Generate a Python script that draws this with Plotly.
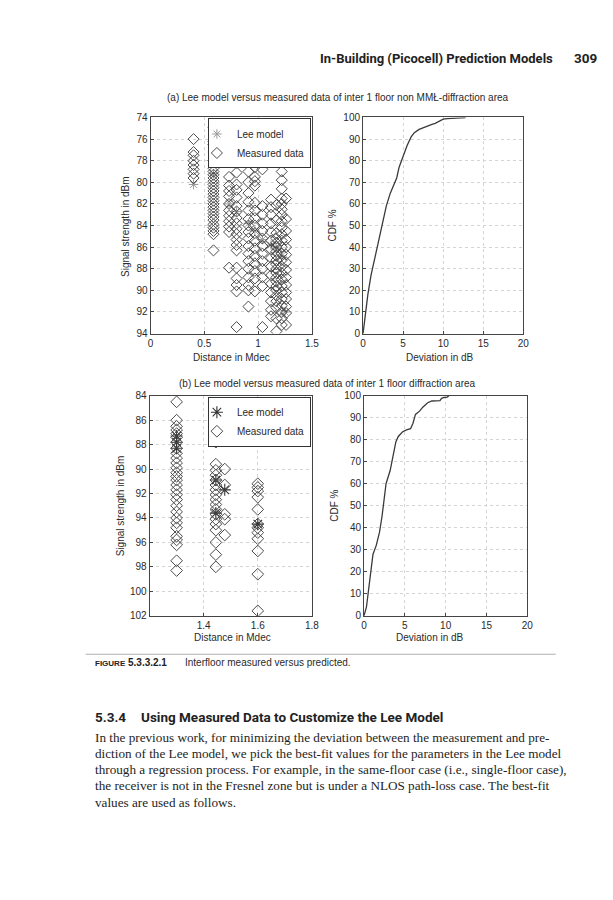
import plotly.graph_objects as go

# ---------------- data ----------------
# (a) inter 1 floor non MML-diffraction area: measured signal strength columns (dBm)
a_cols_x = [0.40, 0.585, 0.73, 0.80, 0.91, 0.97, 1.04, 1.12, 1.17, 1.22, 1.26]
a_col_040 = [76.0, 77.2, 77.5, 78.0, 78.4, 78.8, 79.2, 79.6]
a_col_058 = [74.9, 76.2, 76.5, 77.2, 78.0, 78.7, 79.0, 79.3, 79.6, 79.9, 80.2, 80.5, 80.8,
             81.1, 81.4, 81.7, 82.0, 82.3, 82.6, 82.9, 83.2, 83.5, 83.9, 84.2, 84.5, 84.8, 86.3]
a_col_073 = [76.8, 77.4, 78.0, 79.5, 80.3, 80.8, 81.3, 82.0, 82.6, 83.1, 83.6, 84.1, 84.6, 87.9]
a_col_080 = [77.4, 77.9, 78.2, 79.1, 80.2, 80.7, 81.4, 82.2, 82.7, 83.3, 83.8, 84.3, 84.8,
             85.3, 85.8, 86.3, 87.9, 88.9, 89.5, 90.1, 93.4]
a_col_091 = [79.0, 80.0, 81.0, 81.8, 82.6, 83.4, 84.0, 84.6, 85.2, 85.9, 86.6, 87.3, 88.0,
             88.8, 89.5, 90.0, 91.5]
a_col_097 = [78.6, 79.5, 79.9, 80.3, 81.9, 82.6, 83.3, 84.0, 84.7, 85.4, 86.1, 86.8, 87.5,
             88.2, 88.9, 90.1]
a_col_104 = [77.9, 78.8, 82.2, 83.0, 83.8, 84.5, 85.2, 85.9, 86.6, 87.3, 88.0, 88.8, 89.6, 93.4]
a_col_112 = [81.6, 82.3, 83.0, 83.8, 84.6, 85.4, 86.2, 87.0, 87.8, 88.6, 89.4, 90.2, 91.0,
             91.8, 92.4]
a_col_117 = [82.1, 83.5, 84.7, 85.2, 85.6, 86.0, 86.4, 86.8, 87.2, 87.6, 88.0, 88.4, 88.8,
             89.2, 89.6, 90.0, 90.5, 91.0, 91.6, 92.6, 93.8]
a_col_122 = [79.0, 79.8, 80.6, 81.5, 82.0, 82.5, 83.0, 83.6, 84.2, 84.8, 85.4, 86.0, 86.6,
             87.2, 87.8, 88.4, 89.0, 89.6, 90.2, 90.8, 91.4, 92.0, 92.6, 93.2]
a_col_126 = [81.5, 83.4, 84.5, 85.3, 86.0, 86.7, 87.4, 88.1, 88.8, 89.5, 90.2, 90.8, 91.5,
             92.1, 93.2]
a_measured_cols = [a_col_040, a_col_058, a_col_073, a_col_080, a_col_091, a_col_097,
                   a_col_104, a_col_112, a_col_117, a_col_122, a_col_126]
a_lee_x = [0.40, 0.585, 0.73, 0.80, 0.91, 0.97, 1.04, 1.12, 1.17, 1.22, 1.25]
a_lee_y = [80.2, 79.2, 82.0, 82.7, 83.8, 84.5, 85.3, 85.8, 86.2, 86.8, 92.0]

# (a) CDF of deviation
a_dev = [0, 0.15, 0.3, 0.6, 1.0, 1.4, 1.9, 2.4, 2.9, 3.4, 3.9, 4.2, 4.5, 4.8, 5.1, 5.5,
         6.0, 6.4, 7.0, 7.6, 8.2, 8.6, 9.0, 9.5, 10.0, 10.5, 11.5, 12.8]
a_cdf = [0, 5, 10, 18, 27, 34, 43, 51, 59, 65, 69, 72, 77, 80, 83, 87,
         91, 93, 94.5, 95.5, 96.3, 96.8, 97.3, 98.3, 99.2, 99.5, 99.8, 100]

# (b) inter 1 floor diffraction area
b_cols_x = [1.30, 1.445, 1.478, 1.60]
b_col_130 = [84.5, 86.0, 86.5, 86.8, 87.1, 87.4, 87.8, 88.3, 88.7, 89.1, 89.5, 89.9, 90.3,
             90.6, 90.9, 91.3, 91.7, 92.1, 92.5, 93.0, 93.5, 94.0, 94.4, 94.8, 95.5, 95.8,
             96.2, 97.5, 98.3]
b_col_145 = [87.8, 89.6, 90.1, 90.5, 90.9, 91.3, 91.7, 92.1, 92.5, 92.9, 93.3, 93.7, 94.1,
             94.5, 95.0, 96.0, 97.0, 98.0]
b_col_148 = [90.0, 91.3, 93.7, 94.1, 95.4]
b_col_160 = [91.2, 91.5, 91.8, 92.3, 93.3, 94.5, 94.8, 95.2, 95.7, 96.7, 98.6, 101.6]
b_measured_cols = [b_col_130, b_col_145, b_col_148, b_col_160]
b_lee_x = [1.30, 1.30, 1.30, 1.445, 1.445, 1.478, 1.60]
b_lee_y = [87.3, 87.8, 88.3, 90.9, 93.6, 91.7, 94.5]

b_dev = [0, 0.3, 0.5, 0.65, 0.8, 1.1, 1.5, 1.9, 2.2, 2.45, 2.7, 3.2, 3.5, 3.9, 4.2, 4.7,
         5.2, 5.7, 6.0, 6.3, 6.8, 7.2, 7.8, 8.3, 9.3, 9.5, 9.8, 10.2, 10.4]
b_cdf = [0, 4, 10, 15, 20, 28, 32, 38, 45, 52, 60, 66, 72, 79, 81.5, 83.5,
         84.5, 85, 87.5, 91.5, 93, 94.8, 96.8, 97.6, 97.8, 98.8, 99.2, 99.4, 100]

# tick labels
a_sig_ticks = list(range(74, 95, 2))
b_sig_ticks = list(range(84, 103, 2))
cdf_ticks = list(range(0, 101, 10))
dev_ticks = [0, 5, 10, 15, 20]
a_dist_ticks = [0, 0.5, 1, 1.5]
b_dist_ticks = [1.4, 1.6, 1.8]

# ---------------- layout helpers ----------------
W, H = 613, 900
def fx(px): return px / W
def fy(py): return 1 - py / H

def flatten(cols_x, cols):
    xs, ys = [], []
    for x, col in zip(cols_x, cols):
        xs += [x] * len(col)
        ys += col
    return xs, ys

a_mx, a_my = flatten(a_cols_x, a_measured_cols)
b_mx, b_my = flatten(b_cols_x, b_measured_cols)

SANS = "Liberation Sans, Arial, Helvetica, sans-serif"
HEAD = "Roboto, Liberation Sans, sans-serif"
SERIF = "Liberation Serif, DejaVu Serif, serif"
TXT = "#2a2a2a"

fig = go.Figure()

# (a) scatter
fig.add_trace(go.Scatter(x=a_lee_x, y=a_lee_y, mode="markers", name="Lee model",
                         marker=dict(symbol="asterisk-open", size=8, color="#9a9a9a",
                                     line=dict(width=1, color="#9a9a9a")),
                         xaxis="x", yaxis="y", legend="legend"))
fig.add_trace(go.Scatter(x=a_mx, y=a_my, mode="markers", name="Measured data",
                         marker=dict(symbol="diamond-open", size=8.5, color="#4a4a4a",
                                     line=dict(width=1, color="#4a4a4a")),
                         xaxis="x", yaxis="y", legend="legend"))
# (a) CDF
fig.add_trace(go.Scatter(x=a_dev, y=a_cdf, mode="lines", showlegend=False,
                         line=dict(color="#3a3a3a", width=1.3), xaxis="x2", yaxis="y2"))
# (b) scatter
fig.add_trace(go.Scatter(x=b_lee_x, y=b_lee_y, mode="markers", name="Lee model",
                         marker=dict(symbol="asterisk-open", size=10, color="#333333",
                                     line=dict(width=1.1, color="#333333")),
                         xaxis="x3", yaxis="y3", legend="legend2"))
fig.add_trace(go.Scatter(x=b_mx, y=b_my, mode="markers", name="Measured data",
                         marker=dict(symbol="diamond-open", size=9, color="#4a4a4a",
                                     line=dict(width=1, color="#4a4a4a")),
                         xaxis="x3", yaxis="y3", legend="legend2"))
# (b) CDF
fig.add_trace(go.Scatter(x=b_dev, y=b_cdf, mode="lines", showlegend=False,
                         line=dict(color="#3a3a3a", width=1.3), xaxis="x4", yaxis="y4"))

axis_common = dict(showline=True, linecolor="#444444", linewidth=1, mirror=True,
                   ticks="inside", ticklen=3, tickcolor="#444444",
                   showgrid=True, gridcolor="#d4d4d4", griddash="dot", gridwidth=1,
                   zeroline=False, tickfont=dict(family=SANS, size=10, color=TXT))

legend_common = dict(xanchor="right", yanchor="top", bgcolor="white",
                     bordercolor="#333333", borderwidth=1,
                     font=dict(family=SANS, size=10, color=TXT), tracegroupgap=0,
                     itemwidth=30, indentation=-12)

fig.update_layout(
    width=W, height=H, margin=dict(l=0, r=0, t=0, b=0),
    paper_bgcolor="white", plot_bgcolor="white",
    font=dict(family=SANS, color=TXT),
    xaxis=dict(domain=[fx(150), fx(314)], range=[0, 1.5], tickvals=a_dist_ticks,
               ticktext=["0", "0.5", "1", "1.5"], anchor="y", **axis_common),
    yaxis=dict(domain=[fy(332), fy(113)], range=[94, 74], tickvals=a_sig_ticks,
               anchor="x", **axis_common),
    xaxis2=dict(domain=[fx(366), fx(529)], range=[0, 20], tickvals=dev_ticks,
                anchor="y2", **axis_common),
    yaxis2=dict(domain=[fy(332), fy(113)], range=[0, 100], tickvals=cdf_ticks,
                anchor="x2", **axis_common),
    xaxis3=dict(domain=[fx(149), fx(314)], range=[1.2, 1.8], tickvals=b_dist_ticks,
                anchor="y3", **axis_common),
    yaxis3=dict(domain=[fy(618), fy(395)], range=[102, 84], tickvals=b_sig_ticks,
                anchor="x3", **axis_common),
    xaxis4=dict(domain=[fx(367), fx(533)], range=[0, 20], tickvals=dev_ticks,
                anchor="y4", **axis_common),
    yaxis4=dict(domain=[fy(618), fy(395)], range=[0, 100], tickvals=cdf_ticks,
                anchor="x4", **axis_common),
    legend=dict(x=fx(313), y=fy(114), **legend_common),
    legend2=dict(x=fx(313), y=fy(396), **legend_common),
)

ann = []
def text(px, py, s, size, family=SANS, xanchor="center", angle=0, color=TXT):
    ann.append(dict(x=fx(px), y=fy(py), xref="paper", yref="paper", text=s,
                    showarrow=False, xanchor=xanchor, yanchor="middle",
                    textangle=angle, font=dict(family=family, size=size, color=color)))

# page header
text(561, 53, "<b>In-Building (Picocell) Prediction Models</b>", 13, HEAD, xanchor="right", color="#222")
text(606, 53, "<b>309</b>", 13.5, HEAD, xanchor="right", color="#222")

# subplot titles
text(341, 93, "(a) Lee model versus measured data of inter 1 floor non MMŁ-diffraction area", 10)
text(330, 383, "(b) Lee model versus measured data of inter 1 floor diffraction area", 10)

# axis titles
text(124, 223, "Signal strength in dBm", 10, angle=-90)
text(334, 223, "CDF %", 10, angle=-90)
text(232, 356, "Distance in Mdec", 10)
text(444, 356, "Deviation in dB", 10)
text(119, 507, "Signal strength in dBm", 10, angle=-90)
text(337, 507, "CDF %", 10, angle=-90)
text(233, 640, "Distance in Mdec", 10)
text(434, 640, "Deviation in dB", 10)

# caption
text(92, 665, "<b><span style='font-size:8px'>FIGURE</span> 5.3.3.2.1</b>", 10, xanchor="left", color="#222")
text(183, 665, "Interfloor measured versus predicted.", 10, xanchor="left")

# section heading
text(91, 721, "<b>5.3.4</b>", 13.5, HEAD, xanchor="left", color="#222")
text(138, 721, "<b>Using Measured Data to Customize the Lee Model</b>", 13.5, HEAD, xanchor="left", color="#222")

body = [
    "In the previous work, for minimizing the deviation between the measurement and pre-",
    "diction of the Lee model, we pick the best-fit values for the parameters in the Lee model",
    "through a regression process. For example, in the same-floor case (i.e., single-floor case),",
    "the receiver is not in the Fresnel zone but is under a NLOS path-loss case. The best-fit",
    "values are used as follows.",
]
for i, line in enumerate(body):
    text(91, 741 + i * 16.5, line, 13.2, SERIF, xanchor="left", color="#1e1e1e")

fig.update_layout(annotations=ann,
                  shapes=[dict(type="line", xref="paper", yref="paper",
                               x0=fx(84), x1=fx(562), y0=fy(657), y1=fy(657),
                               line=dict(color="#b0b0b0", width=1))])

fig.write_html("out.html", config={"displayModeBar": False},
               post_script="document.body.style.margin='0';document.body.style.padding='0';")
